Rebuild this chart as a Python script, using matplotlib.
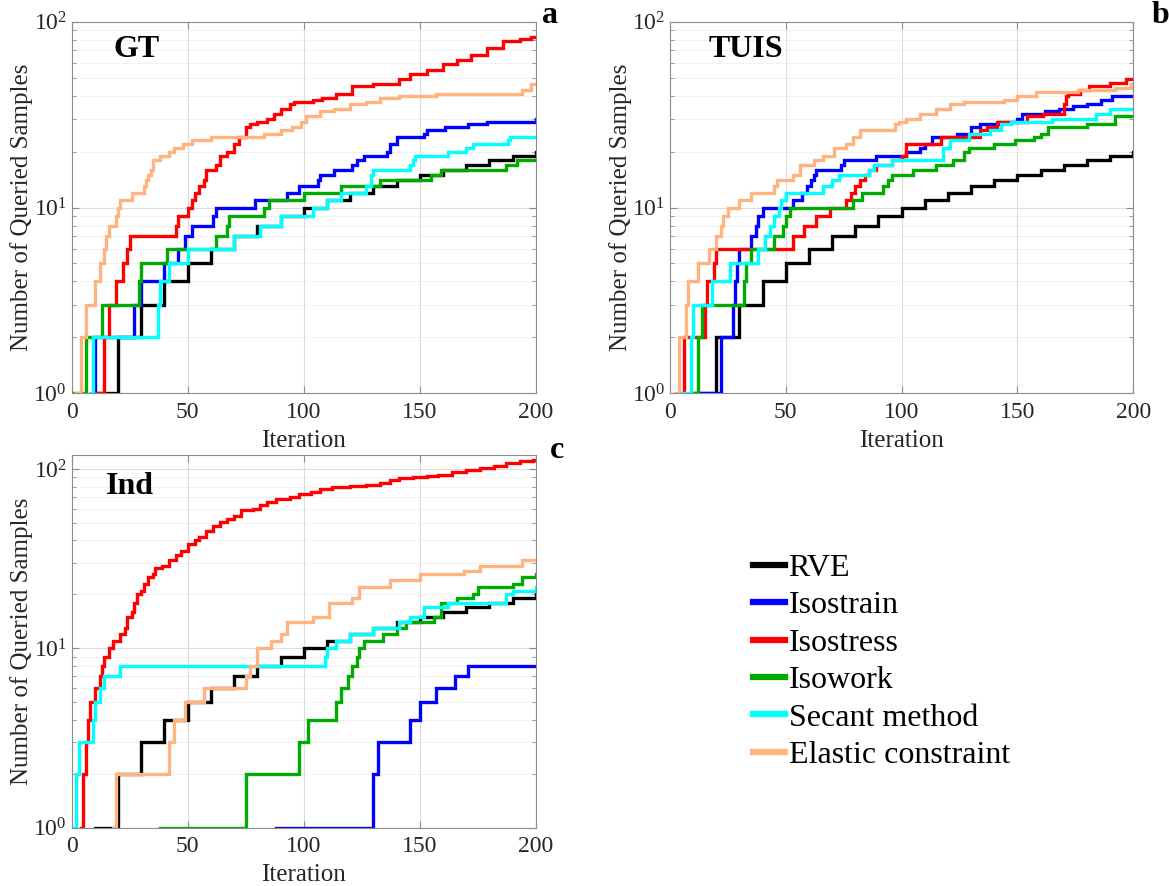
import matplotlib
matplotlib.use('Agg')
import matplotlib.pyplot as plt
from matplotlib.ticker import NullFormatter, LogLocator

plt.rcParams['font.family'] = ['Liberation Serif', 'DejaVu Serif']
plt.rcParams['mathtext.fontset'] = 'stix'

# (iteration, number of queried samples) at each step
methods = ['RVE', 'Isostrain', 'Isostress', 'Isowork', 'Secant method', 'Elastic constraint']
colors = ['black', '#0000ff', '#ff0000', '#00aa00', '#00ffff', '#ffb380']

# --- GT ---
gt_rve = [(10, 1), (20, 2), (30, 3), (40, 4), (50, 5), (60, 6), (70, 7), (80, 8), (90, 9), (100, 10),
          (110, 11), (120, 12), (130, 13), (140, 14), (150, 15), (160, 16), (170, 17), (180, 18),
          (190, 19), (200, 20)]
gt_isostrain = [(9, 1), (10, 2), (27, 3), (30, 4), (40, 5), (46, 6), (49, 7), (52, 8), (61, 9), (62, 10),
                (79, 11), (93, 12), (98, 13), (106, 14), (107, 15), (113, 16), (121, 17), (123, 18),
                (126, 19), (136, 20), (137, 22), (140, 24), (152, 25), (153, 26), (161, 27), (171, 28),
                (179, 29), (200, 30)]
gt_isostress = [(10, 1), (14, 2), (16, 3), (19, 4), (22, 5), (24, 6), (25, 7), (45, 8), (46, 9), (50, 10),
                (52, 11), (53, 12), (55, 13), (57, 14), (58, 16), (62, 17), (64, 19), (67, 20), (70, 22),
                (72, 24), (75, 27), (77, 28), (80, 29), (84, 30), (87, 32), (90, 34), (94, 36), (96, 37),
                (104, 38), (108, 39), (114, 41), (121, 45), (130, 46), (141, 49), (146, 52), (153, 55),
                (160, 59), (166, 62), (172, 66), (179, 72), (186, 79), (193, 81), (198, 83)]
gt_isowork = [(1, 1), (6, 2), (13, 3), (29, 4), (30, 5), (41, 6), (62, 7), (67, 8), (68, 9), (83, 10),
              (85, 11), (100, 12), (116, 13), (133, 14), (155, 15), (159, 16), (187, 17), (192, 18)]
gt_secant = [(8, 1), (9, 2), (37, 3), (38, 4), (42, 5), (50, 6), (70, 7), (81, 8), (90, 9), (104, 10),
             (110, 11), (116, 12), (127, 13), (129, 15), (130, 16), (146, 17), (147, 18), (148, 19),
             (162, 20), (170, 21), (173, 22), (188, 23), (189, 24)]
gt_elastic = [(2, 1), (4, 2), (6, 3), (10, 4), (12, 5), (14, 6), (15, 7), (16, 8), (19, 9), (20, 10),
              (21, 11), (26, 12), (31, 13), (32, 14), (33, 15), (34, 16), (35, 18), (38, 19), (42, 20),
              (44, 21), (48, 22), (52, 23), (60, 24), (83, 25), (90, 26), (95, 27), (99, 29), (101, 31),
              (107, 33), (113, 34), (120, 36), (127, 37), (133, 39), (141, 40), (157, 41), (194, 43),
              (198, 46)]

# --- TUIS ---
tuis_rve = [(10, 1), (20, 2), (30, 3), (40, 4), (50, 5), (60, 6), (70, 7), (80, 8), (90, 9), (100, 10),
            (110, 11), (120, 12), (130, 13), (140, 14), (150, 15), (160, 16), (170, 17), (180, 18),
            (190, 19), (200, 20)]
tuis_isostrain = [(13, 1), (22, 2), (27, 3), (28, 4), (29, 5), (30, 6), (35, 7), (37, 8), (38, 9), (40, 10),
                  (53, 11), (57, 12), (59, 13), (61, 14), (62, 15), (63, 16), (74, 17), (75, 18), (89, 19),
                  (102, 20), (108, 21), (110, 22), (113, 24), (124, 25), (130, 27), (134, 28), (142, 29),
                  (150, 30), (152, 32), (162, 33), (168, 34), (174, 35), (180, 36), (186, 38), (191, 40)]
tuis_isostress = [(5, 1), (6, 2), (15, 3), (16, 4), (19, 5), (20, 6), (53, 7), (58, 8), (63, 9), (69, 10),
                  (76, 11), (78, 12), (80, 13), (82, 14), (84, 15), (86, 16), (89, 17), (96, 18), (100, 19),
                  (102, 22), (117, 24), (134, 26), (137, 27), (141, 29), (154, 31), (161, 32), (170, 36),
                  (171, 40), (172, 41), (177, 43), (181, 45), (190, 47), (197, 49)]
tuis_isowork = [(10, 1), (12, 2), (14, 3), (32, 4), (33, 5), (35, 6), (45, 7), (49, 8), (50, 9), (52, 10),
                (79, 11), (83, 12), (92, 13), (94, 14), (96, 15), (105, 16), (115, 17), (122, 18), (127, 20),
                (129, 21), (140, 22), (149, 23), (157, 24), (160, 25), (163, 27), (180, 28), (192, 31)]
tuis_secant = [(5, 1), (9, 2), (10, 3), (18, 4), (26, 5), (38, 6), (41, 7), (43, 8), (45, 9), (47, 10),
               (48, 11), (50, 12), (66, 13), (70, 14), (73, 15), (86, 16), (88, 17), (96, 18), (118, 21),
               (121, 23), (129, 25), (138, 26), (143, 28), (147, 29), (165, 30), (184, 32), (190, 34)]
tuis_elastic = [(2, 1), (4, 2), (7, 3), (8, 4), (12, 5), (17, 6), (20, 7), (22, 8), (23, 9), (25, 10),
                (30, 11), (35, 12), (45, 13), (46, 14), (53, 15), (56, 17), (62, 18), (66, 19), (71, 21),
                (76, 22), (79, 24), (82, 26), (97, 28), (99, 29), (102, 30), (108, 32), (115, 34),
                (121, 36), (127, 37), (144, 38), (150, 40), (158, 42), (176, 43), (192, 44), (199, 46)]

# --- Ind ---
ind_rve = [(10, 1), (20, 2), (30, 3), (40, 4), (50, 5), (60, 6), (70, 7), (80, 8), (90, 9), (100, 10),
           (110, 11), (120, 12), (130, 13), (140, 14), (150, 15), (160, 16), (170, 17), (180, 18),
           (190, 19), (200, 20)]
ind_isostrain = [(88, 1), (130, 2), (132, 3), (146, 4), (150, 5), (157, 6), (165, 7), (171, 8)]
ind_isostress = [(4, 1), (5, 2), (6, 3), (7, 4), (8, 5), (10, 6), (12, 7), (13, 8), (14, 9), (16, 10),
                 (18, 11), (21, 12), (23, 13), (24, 15), (26, 16), (27, 18), (28, 20), (30, 21), (31, 23),
                 (33, 25), (35, 26), (36, 28), (39, 29), (42, 31), (45, 33), (47, 35), (50, 38), (53, 40),
                 (55, 42), (58, 45), (61, 48), (64, 51), (67, 53), (70, 55), (73, 59), (78, 60), (81, 63),
                 (84, 66), (88, 68), (94, 70), (98, 73), (103, 75), (107, 78), (112, 80), (120, 81),
                 (127, 82), (133, 84), (137, 87), (141, 89), (147, 90), (153, 91), (158, 93), (164, 97),
                 (170, 99), (176, 101), (182, 104), (187, 108), (193, 111), (199, 112)]
ind_isowork = [(38, 1), (75, 2), (98, 3), (102, 4), (114, 5), (116, 6), (119, 7), (121, 8), (123, 9),
               (124, 10), (126, 11), (134, 12), (140, 13), (144, 14), (156, 15), (159, 18), (166, 19),
               (173, 20), (175, 22), (190, 23), (194, 25), (200, 26)]
ind_secant = [(1, 1), (2, 2), (3, 3), (9, 4), (10, 5), (12, 6), (14, 7), (21, 8), (109, 9), (110, 10),
              (114, 11), (120, 12), (130, 13), (141, 14), (146, 15), (152, 17), (162, 18), (187, 20),
              (190, 21), (200, 22)]
ind_elastic = [(18, 1), (19, 2), (42, 3), (44, 4), (49, 5), (57, 6), (75, 7), (77, 8), (80, 10), (86, 11),
               (90, 12), (93, 14), (104, 15), (111, 18), (121, 19), (124, 22), (137, 24), (150, 26),
               (169, 27), (176, 29), (194, 31)]

panels = [
    ('GT', 'a', [gt_rve, gt_isostrain, gt_isostress, gt_isowork, gt_secant, gt_elastic], 100),
    ('TUIS', 'b', [tuis_rve, tuis_isostrain, tuis_isostress, tuis_isowork, tuis_secant, tuis_elastic], 100),
    ('Ind', 'c', [ind_rve, ind_isostrain, ind_isostress, ind_isowork, ind_secant, ind_elastic], 120),
]
positions = [
    [0.0613, 0.5561, 0.3970, 0.4194],
    [0.5731, 0.5561, 0.3964, 0.4194],
    [0.0613, 0.0658, 0.3970, 0.4207],
]
title_pos = [(0.14, 0.925), (0.163, 0.925), (0.125, 0.915)]
letter_pos = [(1.031, 1.017), (1.058, 1.017), (1.045, 1.012)]

fig = plt.figure(figsize=(11.69, 8.86), dpi=100)
frame = '#8c8c8c'
handles = []
for k, (name, letter, series, ytop) in enumerate(panels):
    ax = fig.add_axes(positions[k])
    for j, s in enumerate(series):
        xs = [p[0] for p in s]
        ys = [p[1] for p in s]
        if xs[-1] < 200:
            xs.append(200)
            ys.append(ys[-1])
        ln, = ax.plot(xs, ys, drawstyle='steps-post', color=colors[j], lw=2.4,
                      solid_joinstyle='miter', label=methods[j])
        if k == 0:
            handles.append(ln)
    ax.set_yscale('log')
    ax.set_xlim(0, 200)
    ax.set_ylim(1, ytop)
    ax.set_xticks([0, 50, 100, 150, 200])
    ax.yaxis.set_minor_locator(LogLocator(base=10, subs=range(2, 10)))
    ax.yaxis.set_minor_formatter(NullFormatter())
    ax.grid(True, which='major', color='#dcdcdc', lw=0.8)
    ax.grid(True, which='minor', axis='y', color='#dcdcdc', lw=0.7, ls=':')
    ax.set_axisbelow(True)
    ax.tick_params(which='both', direction='in', top=True, right=True, colors=frame,
                   labelcolor='#262626', labelsize=17)
    ax.tick_params(axis='x', pad=6)
    ax.tick_params(which='major', length=5)
    ax.tick_params(which='minor', length=3)
    for sp in ax.spines.values():
        sp.set_color(frame)
    ax.set_xlabel('Iteration', fontsize=18, color='#262626', labelpad=5)
    ax.set_ylabel('Number of Queried Samples', fontsize=18, color='#262626', labelpad=0)
    ax.text(title_pos[k][0], title_pos[k][1], name, transform=ax.transAxes, fontsize=23,
            fontweight='bold', ha='center', va='center')
    ax.text(letter_pos[k][0], letter_pos[k][1], letter, transform=ax.transAxes, fontsize=23,
            fontweight='bold', ha='center', va='center')

fig.legend(handles=handles, labels=methods, loc='upper left', bbox_to_anchor=(0.6445, 0.375),
           frameon=False, fontsize=23, handlelength=1.0, handletextpad=0.1, labelspacing=0.25,
           borderpad=0, borderaxespad=0)
for lh in fig.legends[0].get_lines():
    lh.set_linewidth(4.5)

fig.savefig('out.png', dpi=100)
